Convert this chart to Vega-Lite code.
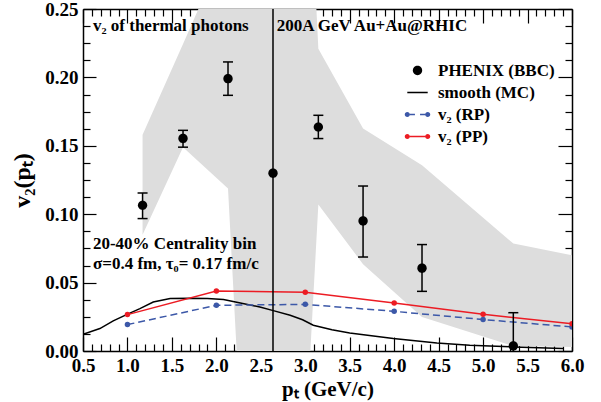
{
  "$schema": "https://vega.github.io/schema/vega-lite/v6.json",
  "width": 489,
  "height": 342,
  "autosize": {"type": "none"},
  "padding": {"left": 83, "top": 9, "right": 29, "bottom": 51},
  "background": "white",
  "config": {
    "view": {"stroke": null},
    "font": "Liberation Serif",
    "axis": {"grid": false, "tickColor": "black", "domainColor": "black", "tickWidth": 1.2, "domainWidth": 1.5}
  },
  "datasets": {
    "band": [
      {"x": 1.17, "up": 0.158, "lo": 0.085},
      {"x": 1.625, "up": 0.2245, "lo": 0.149},
      {"x": 2.131, "up": 0.299, "lo": 0.1187},
      {"x": 2.637, "up": 0.9, "lo": -0.5},
      {"x": 3.147, "up": 0.221, "lo": 0.107},
      {"x": 3.65, "up": 0.1626, "lo": 0.0635},
      {"x": 4.313, "up": 0.1357, "lo": 0.0249},
      {"x": 5.34, "up": 0.0785, "lo": 0.0037},
      {"x": 6.0, "up": 0.07, "lo": 0.003}
    ],
    "smooth": [
      {"x": 0.5, "y": 0.0122}, {"x": 0.69, "y": 0.0164}, {"x": 0.84, "y": 0.022},
      {"x": 0.99, "y": 0.0266}, {"x": 1.14, "y": 0.031}, {"x": 1.29, "y": 0.0358},
      {"x": 1.48, "y": 0.0383}, {"x": 1.7, "y": 0.0385}, {"x": 1.9, "y": 0.0383},
      {"x": 2.08, "y": 0.0376}, {"x": 2.27, "y": 0.0351}, {"x": 2.49, "y": 0.0322},
      {"x": 2.64, "y": 0.0295}, {"x": 2.83, "y": 0.0261}, {"x": 2.97, "y": 0.0228},
      {"x": 3.09, "y": 0.0188}, {"x": 3.3, "y": 0.0155}, {"x": 3.5, "y": 0.0132},
      {"x": 3.99, "y": 0.0091}, {"x": 4.48, "y": 0.0058}, {"x": 4.85, "y": 0.0042},
      {"x": 5.34, "y": 0.003}, {"x": 5.9, "y": 0.0018}
    ],
    "rp": [
      {"x": 1, "y": 0.0193}, {"x": 2, "y": 0.0334}, {"x": 3, "y": 0.0341},
      {"x": 4, "y": 0.029}, {"x": 5, "y": 0.023}, {"x": 6, "y": 0.0176}
    ],
    "pp": [
      {"x": 1, "y": 0.0266}, {"x": 2, "y": 0.0439}, {"x": 3, "y": 0.0429},
      {"x": 4, "y": 0.0351}, {"x": 5, "y": 0.0268}, {"x": 6, "y": 0.02}
    ],
    "phenix": [
      {"x": 1.17, "y": 0.1065, "lo": 0.0968, "hi": 0.1155, "series": "PHENIX (BBC)"},
      {"x": 1.625, "y": 0.1553, "lo": 0.149, "hi": 0.1613, "series": "PHENIX (BBC)"},
      {"x": 2.131, "y": 0.1991, "lo": 0.1869, "hi": 0.2113, "series": "PHENIX (BBC)"},
      {"x": 2.637, "y": 0.1299, "lo": -0.5, "hi": 0.76, "series": "PHENIX (BBC)"},
      {"x": 3.147, "y": 0.1637, "lo": 0.1553, "hi": 0.1723, "series": "PHENIX (BBC)"},
      {"x": 3.65, "y": 0.095, "lo": 0.0687, "hi": 0.1206, "series": "PHENIX (BBC)"},
      {"x": 4.313, "y": 0.0605, "lo": 0.0436, "hi": 0.0778, "series": "PHENIX (BBC)"},
      {"x": 5.34, "y": 0.0037, "lo": -0.021, "hi": 0.028, "series": "PHENIX (BBC)"}
    ],
    "notes": [
      {"x": 0.612, "y": 0.2339, "label": "v₂ of thermal photons"},
      {"x": 2.679, "y": 0.2339, "label": "200A GeV Au+Au@RHIC"},
      {"x": 0.612, "y": 0.0749, "label": "20-40% Centrality bin"},
      {"x": 0.612, "y": 0.0602, "label": "σ=0.4 fm, τ₀= 0.17 fm/c"}
    ]
  },
  "resolve": {"axis": {"x": "independent", "y": "independent"}},
  "layer": [
    {
      "data": {"name": "band"},
      "mark": {"type": "area", "color": "#dddddd", "clip": true, "opacity": 1},
      "encoding": {
        "x": {"field": "x", "type": "quantitative", "scale": {"domain": [0.5, 6.0], "nice": false, "zero": false},
          "axis": {"orient": "bottom", "values": [0.5, 1, 1.5, 2, 2.5, 3, 3.5, 4, 4.5, 5, 5.5, 6], "format": ".1f",
            "tickSize": -14, "labelFont": "Liberation Serif", "labelFontWeight": "bold", "labelFontSize": 19,
            "labelColor": "black", "labelPadding": 19, "labelFlush": false, "labelOverlap": false,
            "title": "pₜ (GeV/c)", "titleFont": "Liberation Serif", "titleFontSize": 21, "titleFontWeight": "bold",
            "titleColor": "black", "titlePadding": 3}},
        "y": {"field": "up", "type": "quantitative", "scale": {"domain": [0, 0.25], "nice": false, "zero": false},
          "axis": {"orient": "left", "values": [0, 0.05, 0.1, 0.15, 0.2, 0.25], "format": ".2f",
            "tickSize": -13, "labelFont": "Liberation Serif", "labelFontWeight": "bold", "labelFontSize": 19,
            "labelColor": "black", "labelPadding": 18, "labelFlush": false, "labelOverlap": false,
            "title": "v₂(pₜ)", "titleFont": "Liberation Serif", "titleFontSize": 24, "titleFontWeight": "bold",
            "titleColor": "black", "titlePadding": 10}},
        "y2": {"field": "lo"}
      }
    },
    {
      "data": {"name": "smooth"},
      "mark": {"type": "line", "color": "black", "strokeWidth": 1.5, "clip": true},
      "encoding": {
        "x": {"field": "x", "type": "quantitative",
          "axis": {"orient": "bottom", "values": [0.6,0.7,0.8,0.9,1.1,1.2,1.3,1.4,1.6,1.7,1.8,1.9,2.1,2.2,2.3,2.4,2.6,2.7,2.8,2.9,3.1,3.2,3.3,3.4,3.6,3.7,3.8,3.9,4.1,4.2,4.3,4.4,4.6,4.7,4.8,4.9,5.1,5.2,5.3,5.4,5.6,5.7,5.8,5.9],
            "tickSize": -7, "labels": false, "domain": false, "title": null}},
        "y": {"field": "y", "type": "quantitative",
          "axis": {"orient": "left", "values": [0.0125,0.025,0.0375,0.0625,0.075,0.0875,0.1125,0.125,0.1375,0.1625,0.175,0.1875,0.2125,0.225,0.2375],
            "tickSize": -7, "labels": false, "domain": false, "title": null}}
      }
    },
    {
      "data": {"name": "rp"},
      "mark": {"type": "line", "color": "#3c58a8", "strokeWidth": 1.5, "strokeDash": [7, 4], "clip": true},
      "encoding": {
        "x": {"field": "x", "type": "quantitative",
          "axis": {"orient": "top", "values": [0.5, 1, 1.5, 2, 2.5, 3, 3.5, 4, 4.5, 5, 5.5, 6], "tickSize": -14, "labels": false, "title": null}},
        "y": {"field": "y", "type": "quantitative",
          "axis": {"orient": "right", "values": [0, 0.05, 0.1, 0.15, 0.2, 0.25], "tickSize": -14, "labels": false, "title": null}}
      }
    },
    {
      "data": {"name": "pp"},
      "mark": {"type": "line", "color": "#ec1c24", "strokeWidth": 1.5, "clip": true},
      "encoding": {
        "x": {"field": "x", "type": "quantitative",
          "axis": {"orient": "top", "values": [0.6,0.7,0.8,0.9,1.1,1.2,1.3,1.4,1.6,1.7,1.8,1.9,2.1,2.2,2.3,2.4,2.6,2.7,2.8,2.9,3.1,3.2,3.3,3.4,3.6,3.7,3.8,3.9,4.1,4.2,4.3,4.4,4.6,4.7,4.8,4.9,5.1,5.2,5.3,5.4,5.6,5.7,5.8,5.9],
            "tickSize": -7, "labels": false, "domain": false, "title": null}},
        "y": {"field": "y", "type": "quantitative",
          "axis": {"orient": "right", "values": [0.0125,0.025,0.0375,0.0625,0.075,0.0875,0.1125,0.125,0.1375,0.1625,0.175,0.1875,0.2125,0.225,0.2375],
            "tickSize": -7, "labels": false, "domain": false, "title": null}}
      }
    },
    {
      "data": {"name": "rp"},
      "mark": {"type": "point", "filled": true, "color": "#3c58a8", "size": 30, "opacity": 1, "clip": true},
      "encoding": {
        "x": {"field": "x", "type": "quantitative", "axis": null},
        "y": {"field": "y", "type": "quantitative", "axis": null}
      }
    },
    {
      "data": {"name": "pp"},
      "mark": {"type": "point", "filled": true, "color": "#ec1c24", "size": 30, "opacity": 1, "clip": true},
      "encoding": {
        "x": {"field": "x", "type": "quantitative", "axis": null},
        "y": {"field": "y", "type": "quantitative", "axis": null}
      }
    },
    {
      "data": {"name": "phenix"},
      "mark": {"type": "rule", "color": "black", "strokeWidth": 1.5, "clip": true},
      "encoding": {
        "x": {"field": "x", "type": "quantitative", "axis": null},
        "y": {"field": "lo", "type": "quantitative", "axis": null},
        "y2": {"field": "hi"}
      }
    },
    {
      "data": {"name": "phenix"},
      "mark": {"type": "tick", "orient": "horizontal", "color": "black", "size": 10, "thickness": 1.5, "opacity": 1, "clip": true},
      "encoding": {
        "x": {"field": "x", "type": "quantitative", "axis": null},
        "y": {"field": "lo", "type": "quantitative", "axis": null}
      }
    },
    {
      "data": {"name": "phenix"},
      "mark": {"type": "tick", "orient": "horizontal", "color": "black", "size": 10, "thickness": 1.5, "opacity": 1, "clip": true},
      "encoding": {
        "x": {"field": "x", "type": "quantitative", "axis": null},
        "y": {"field": "hi", "type": "quantitative", "axis": null}
      }
    },
    {
      "data": {"name": "phenix"},
      "mark": {"type": "point", "filled": true, "size": 289, "opacity": 1, "strokeWidth": 0, "clip": true},
      "encoding": {
        "x": {"field": "x", "type": "quantitative", "axis": null},
        "y": {"field": "y", "type": "quantitative", "axis": null},
        "color": {"field": "series", "type": "nominal",
          "scale": {"domain": ["PHENIX (BBC)", "smooth (MC)", "v₂ (RP)", "v₂ (PP)"], "range": ["black", "black", "#3c58a8", "#ec1c24"]},
          "legend": {"title": null, "orient": "none", "legendX": 326, "legendY": 53, "padding": 0,
            "labelFont": "Liberation Serif", "labelFontWeight": "bold", "labelFontSize": 17, "labelColor": "black",
            "labelOffset": 12, "rowPadding": 4, "symbolSize": 289, "symbolStrokeWidth": 0, "symbolOpacity": 1, "labelLimit": 300}},
        "shape": {"field": "series", "type": "nominal",
          "scale": {"domain": ["PHENIX (BBC)", "smooth (MC)", "v₂ (RP)", "v₂ (PP)"],
            "range": [
              "M-0.55,0A0.55,0.55 0 1,0 0.55,0A0.55,0.55 0 1,0 -0.55,0Z",
              "M-1.2,-0.09H1.2V0.09H-1.2Z",
              "M-1.5,0A0.3,0.3 0 1,0 -0.9,0A0.3,0.3 0 1,0 -1.5,0Z M0.9,0A0.3,0.3 0 1,0 1.5,0A0.3,0.3 0 1,0 0.9,0Z M-0.9,-0.09H-0.3V0.09H-0.9Z M0.3,-0.09H0.9V0.09H0.3Z",
              "M-1.5,0A0.3,0.3 0 1,0 -0.9,0A0.3,0.3 0 1,0 -1.5,0Z M0.9,0A0.3,0.3 0 1,0 1.5,0A0.3,0.3 0 1,0 0.9,0Z M-0.9,-0.09H0.9V0.09H-0.9Z"
            ]},
          "legend": {"title": null, "orient": "none", "legendX": 326, "legendY": 53, "padding": 0,
            "labelFont": "Liberation Serif", "labelFontWeight": "bold", "labelFontSize": 17, "labelColor": "black",
            "labelOffset": 12, "rowPadding": 4, "symbolSize": 289, "symbolStrokeWidth": 0, "symbolOpacity": 1, "labelLimit": 300}}
      }
    },
    {
      "data": {"name": "notes"},
      "mark": {"type": "text", "align": "left", "baseline": "alphabetic", "font": "Liberation Serif", "fontWeight": "bold", "fontSize": 17, "color": "black"},
      "encoding": {
        "x": {"field": "x", "type": "quantitative", "axis": null},
        "y": {"field": "y", "type": "quantitative", "axis": null},
        "text": {"field": "label"}
      }
    }
  ]
}
